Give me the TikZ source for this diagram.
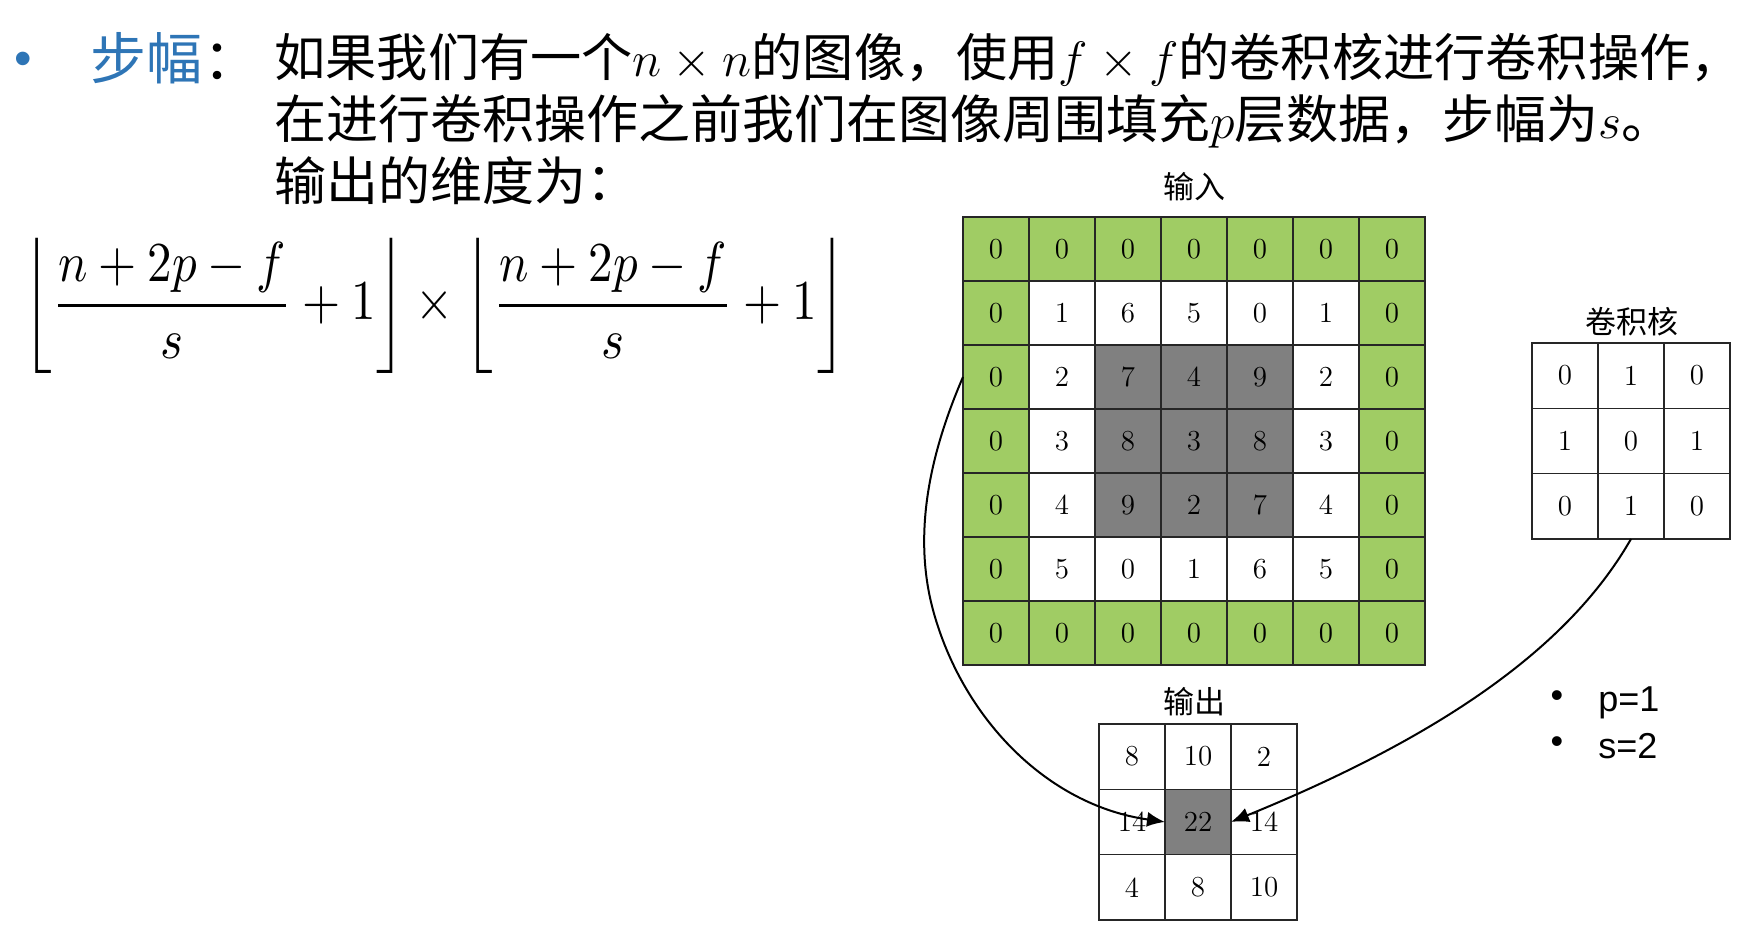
\documentclass[tikz,border=0pt]{standalone}
\usepackage{amsmath}
\usepackage{graphicx}
\usepackage{fontspec}
\newfontfamily\cjk{Noto Sans CJK SC}
\newfontfamily\arial{Liberation Sans}
\usetikzlibrary{arrows.meta}
\definecolor{titleblue}{HTML}{2E75B6}
\definecolor{ingreen}{HTML}{A0CC64}
\definecolor{ingray}{HTML}{808080}
\tikzset{
  cell/.style={draw=black!85, line width=0.6pt, minimum width=33pt, minimum height=32pt,
    inner sep=0pt, outer sep=0pt, font=\fontsize{14.5}{15}\selectfont},
  kcell/.style={cell, minimum height=32.7pt},
  body/.style={anchor=base west, inner sep=0pt, font=\cjk\fontsize{26}{30}\selectfont},
  gridlabel/.style={inner sep=0pt, font=\cjk\fontsize{15.5}{17}\selectfont},
  arr/.style={line width=1pt, -{Latex[length=9pt,width=7.5pt]}},
  smallbullet/.style={inner sep=0pt, font=\arial\fontsize{18}{20}\selectfont},
}
\begin{document}
\begin{tikzpicture}[x=0.5pt,y=-0.5pt]
\useasboundingbox (0,0) rectangle (1752,946);
% heading
\node[inner sep=0pt, text=titleblue, font=\arial\fontsize{25}{28}\selectfont] (bul) at (23,64) {•};
\node[body, text=titleblue, font=\cjk\fontsize{28}{30}\selectfont] (title) at (90,80) {步幅};
\node[body, font=\cjk\fontsize{28}{30}\selectfont] (colon) at (title.base east) {：};
\node[body, font=\cjk\fontsize{25.6}{30}\selectfont] (l1) at (274,77) {如果我们有一个$n\times n$的图像，使用$f\times f$的卷积核进行卷积操作，};
\node[body] (l2) at (274,139) {在进行卷积操作之前我们在图像周围填充$p$层数据，步幅为$s$。};
\node[body] (l3) at (274,201) {输出的维度为：};
% formula
\node[inner sep=0pt] (formula) at (435,305.5) {\resizebox{411pt}{!}{\scalebox{1}[1.15]{$\left\lfloor\dfrac{n+2p-f}{s}+1\right\rfloor\times\left\lfloor\dfrac{n+2p-f}{s}+1\right\rfloor$}}};
% input grid
\foreach \row [count=\ri] in {{0,0,0,0,0,0,0},{0,1,6,5,0,1,0},{0,2,7,4,9,2,0},{0,3,8,3,8,3,0},{0,4,9,2,7,4,0},{0,5,0,1,6,5,0},{0,0,0,0,0,0,0}} {
  \foreach \v [count=\ci] in \row {
    \pgfmathtruncatemacro\tp{(\ri==1||\ri==7||\ci==1||\ci==7)?1:((\ri>2&&\ri<6&&\ci>2&&\ci<6)?2:0)}
    \ifcase\tp \def\fc{white}\or\def\fc{ingreen}\or\def\fc{ingray}\fi
    \node[cell, fill=\fc] (in-\ri-\ci) at ({963+66*(\ci-0.5)},{217+64*(\ri-0.5)}) {\v};
  }
}
\node[gridlabel] (inlabel) at (1194,187) {输入};
% kernel
\foreach \row [count=\ri] in {{0,1,0},{1,0,1},{0,1,0}} {
  \foreach \v [count=\ci] in \row {
    \node[kcell, fill=white] (k-\ri-\ci) at ({1532+66*(\ci-0.5)},{343+65.3*(\ri-0.5)}) {\v};
  }
}
\node[gridlabel] (klabel) at (1632,322) {卷积核};
% output
\foreach \row [count=\ri] in {{8,10,2},{14,22,14},{4,8,10}} {
  \foreach \v [count=\ci] in \row {
    \pgfmathtruncatemacro\tp{(\ri==2&&\ci==2)?1:0}
    \ifcase\tp \def\fc{white}\or\def\fc{ingray}\fi
    \node[kcell, fill=\fc] (out-\ri-\ci) at ({1099+66*(\ci-0.5)},{724+65.3*(\ri-0.5)}) {\v};
  }
}
\node[gridlabel] (outlabel) at (1194,702) {输出};
% parameters
\node[smallbullet] (b1) at (1557,699) {•};
\node[smallbullet] (b2) at (1557,745) {•};
\node[smallbullet, anchor=base west] (p1) at (1598,711) {p=1};
\node[smallbullet, anchor=base west] (s2) at (1598,758) {s=2};
% arrows
\coordinate (mid1) at (933,610);
\draw[arr] (in-3-1.west) .. controls (931,451) and (912,532) .. (mid1)
  .. controls (962,717) and (1046,805) .. (out-2-2.west);
\draw[arr] (k-3-2.south) .. controls (1576,635) and (1464,727) .. (out-2-2.east);
\end{tikzpicture}
\end{document}
